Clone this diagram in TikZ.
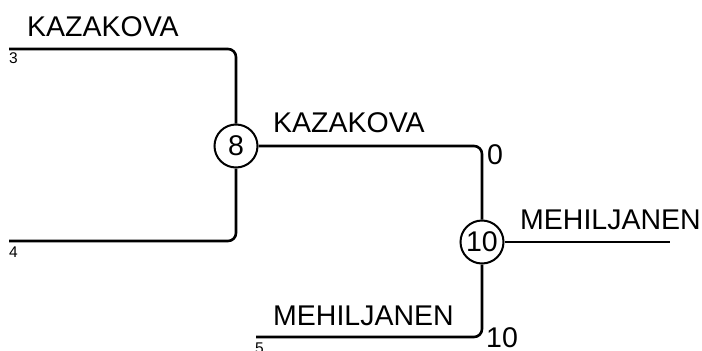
\documentclass[tikz,border=0pt]{standalone}
\usepackage{fontspec}
\setmainfont{Liberation Sans}
\begin{document}
\begin{tikzpicture}[x=1pt,y=-1pt,
  wire/.style={line width=2.6pt,rounded corners=8pt},
  matchnode/.style={circle,draw,line width=2pt,minimum size=43pt,inner sep=0pt,fill=white,font=\fontsize{28.5}{28.5}\selectfont},
  playerlbl/.style={anchor=base west,inner sep=0pt,font=\fontsize{28.5}{28.5}\selectfont},
  scorelbl/.style={anchor=base west,inner sep=0pt,font=\fontsize{28.5}{28.5}\selectfont},
  seedlbl/.style={anchor=base west,inner sep=0pt,font=\fontsize{15.5}{15.5}\selectfont}]
\useasboundingbox (0,0) rectangle (702,351);
\coordinate (a3) at (9,49);
\coordinate (a4) at (9,241);
\coordinate (a5) at (256,337);
\coordinate (out) at (670,242);
\node[matchnode] (c8) at (236,146) {8};
\node[matchnode] (c10) at (482,242) {10};
\draw[wire] (a3) -| (c8.north);
\draw[wire] (a4) -| (c8.south);
\draw[wire] (c8.east) -| (c10.north);
\draw[wire] (a5) -| (c10.south);
\draw[wire] (c10.east) -- (out);
\node[playerlbl] (n1) at (27,36) {KAZAKOVA};
\node[playerlbl] (n2) at (273,132) {KAZAKOVA};
\node[playerlbl] (n3) at (520,229) {MEHILJANEN};
\node[playerlbl] (n4) at (273,325) {MEHILJANEN};
\node[seedlbl] (s3) at (9,63) {3};
\node[seedlbl] (s4) at (9,257) {4};
\node[seedlbl] (s5) at (255,353) {5};
\node[scorelbl] (p0) at (487,164) {0};
\node[scorelbl] (p10) at (486,347) {10};
\end{tikzpicture}
\end{document}
